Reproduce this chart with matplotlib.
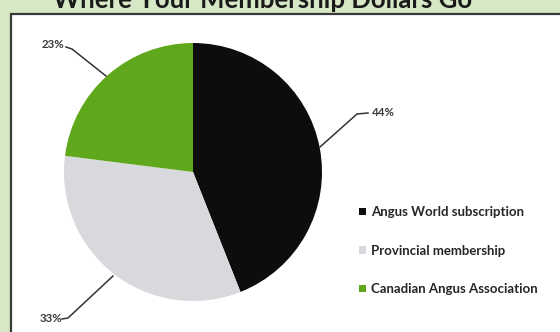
import matplotlib
matplotlib.use("Agg")
import matplotlib.pyplot as plt
from matplotlib.patches import Rectangle

title = "Where Your Membership Dollars Go"
categories = ["Angus World subscription", "Provincial membership", "Canadian Angus Association"]
values = [44, 33, 23]
pct_labels = ["44%", "33%", "23%"]
colors = ["#0d0d0d", "#d8d9dc", "#5fa81c"]

W, H = 560, 332
fig = plt.figure(figsize=(W / 100, H / 100), dpi=100)
fig.patch.set_facecolor("#d6e8c6")

# white chart panel with border
fig.patches.append(Rectangle((11 / W, -0.05), 1.0, (H - 14) / H + 0.05, transform=fig.transFigure,
                             facecolor="white", edgecolor="#3a3a3a", linewidth=1.6, zorder=-10))

fig.text(263 / W, 1 - 8 / H, title, ha="center", va="baseline", fontsize=18.5,
         fontweight="bold", family="Lato", color="#1a1a1a", zorder=-5)

cx, cy, r = 193, 172, 129
ax = fig.add_axes([(cx - r) / W, (H - cy - r) / H, 2 * r / W, 2 * r / H])
wedges, _ = ax.pie(values, colors=colors, startangle=90, counterclock=False,
                   wedgeprops=dict(linewidth=0))
ax.set_xlim(-1, 1)
ax.set_ylim(-1, 1)
ax.set_aspect("equal")
ax.axis("off")

def px(x, y):
    return ((x - cx) / r, (cy - y) / r)

# leader lines (pixel positions of elbows and ends) and labels
leaders = [
    ((320, 147), (357, 114), (368, 113), (372, 113), "left"),
    ((113, 276), (68, 318), (62, 319), (62, 318), "right"),
    ((106, 76), (72, 49), (66, 47), (64, 45), "right"),
]
for (p0, p1, p2, pt, ha), lab in zip(leaders, pct_labels):
    xs, ys = zip(*[px(*p) for p in (p0, p1, p2)])
    ax.plot(xs, ys, color="#333333", linewidth=1.1, clip_on=False)
    tx, ty = px(*pt)
    ax.text(tx, ty, lab, ha=ha, va="center", fontsize=8.3, family="Lato",
            fontweight="bold", color="#3a3a3a", clip_on=False)

leg = fig.legend(wedges, categories, loc="upper left",
                 bbox_to_anchor=(354 / W, 1 - 201 / H), frameon=False,
                 prop=dict(family="Lato", size=9.5, weight="bold"), labelspacing=2.0,
                 handlelength=0.5, handleheight=0.5, handletextpad=0.4,
                 borderaxespad=0)
for t in leg.get_texts():
    t.set_color("#262626")

fig.savefig("out.png", dpi=100, facecolor=fig.get_facecolor())
